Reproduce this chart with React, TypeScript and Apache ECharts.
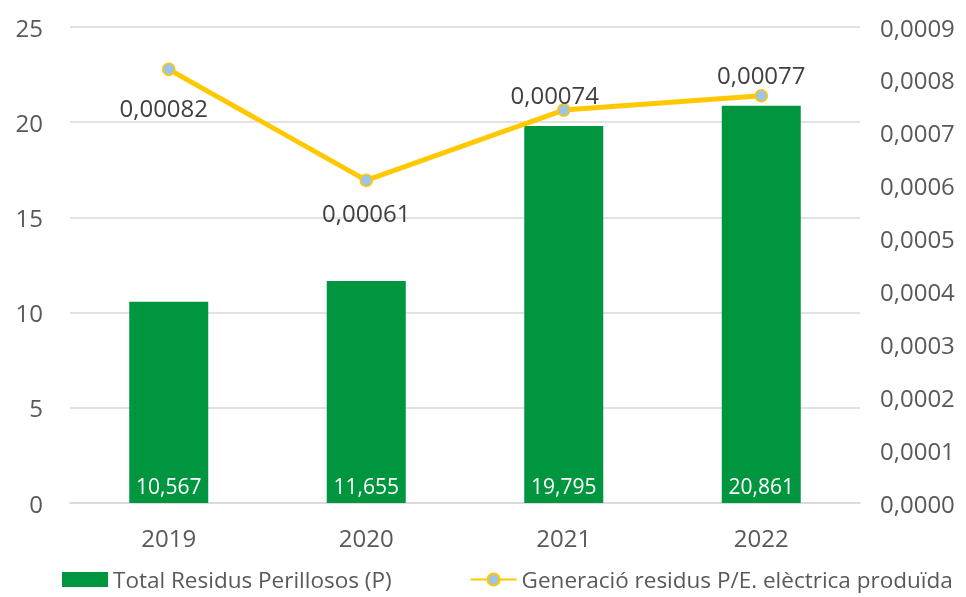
import React, { useEffect, useRef } from "react";
import * as echarts from "echarts";

const categories = ["2019", "2020", "2021", "2022"];
const residusTotals = [10.567, 11.655, 19.795, 20.861];
const residusPerEnergy = [0.00082, 0.00061, 0.000743, 0.00077];
const barName = "Total Residus Perillosos (P)";
const lineName = "Generació residus P/E. elèctrica produïda";

const FONT = "'Open Sans', sans-serif";

const comma = (v: number, d: number) => v.toFixed(d).replace(".", ",");

export default function App() {
  const ref = useRef<HTMLDivElement>(null);
  useEffect(() => {
    if (!ref.current) return;
    const chart = echarts.init(ref.current, null, { renderer: "svg" });
    const labelCfg = [
      { position: "bottom", distance: 19, offset: [-5, 0] },
      { position: "bottom", distance: 13, offset: [0, 0] },
      { position: "top", distance: -3, offset: [-9, 0] },
      { position: "top", distance: 3, offset: [0, 0] },
    ];
    chart.setOption({
      animation: false,
      textStyle: { fontFamily: FONT },
      grid: { left: 70, right: 106, top: 27, bottom: 94, containLabel: false },
      legend: {
        top: 568,
        left: 62,
        right: 0,
        padding: 0,
        itemGap: 78,
        itemWidth: 46,
        itemHeight: 15,
        textStyle: { fontFamily: FONT, fontSize: 22.5, color: "#595959" },
        data: [
          { name: barName, icon: "rect" },
          { name: lineName },
        ],
      },
      xAxis: {
        type: "category",
        data: categories,
        axisLine: { lineStyle: { color: "#d9d9d9", width: 1.5 } },
        axisTick: { show: false },
        axisLabel: { color: "#595959", fontSize: 24, margin: 22, fontFamily: FONT },
      },
      yAxis: [
        {
          type: "value",
          min: 0,
          max: 25,
          interval: 5,
          axisLine: { show: false },
          axisTick: { show: false },
          splitLine: { lineStyle: { color: "#d9d9d9", width: 1.5 } },
          axisLabel: { color: "#595959", fontSize: 24, margin: 27, fontFamily: FONT },
        },
        {
          type: "value",
          min: 0,
          max: 0.0009,
          interval: 0.0001,
          position: "right",
          axisLine: { show: false },
          axisTick: { show: false },
          splitLine: { show: false },
          axisLabel: {
            color: "#595959",
            fontSize: 24,
            margin: 20,
            fontFamily: FONT,
            formatter: (v: number) => comma(v, 4),
          },
        },
      ],
      series: [
        {
          name: barName,
          type: "bar",
          data: residusTotals,
          barWidth: "40%",
          itemStyle: { color: "#00963F" },
          label: {
            show: true,
            position: "insideBottom",
            distance: 7,
            color: "#ffffff",
            fontSize: 21,
            fontFamily: FONT,
            formatter: (p: any) => comma(p.value, 3),
          },
        },
        {
          name: lineName,
          type: "line",
          yAxisIndex: 1,
          data: residusPerEnergy.map((v, i) => ({
            value: v,
            label: labelCfg[i],
          })),
          symbol: "circle",
          symbolSize: 12,
          lineStyle: { color: "#FFC800", width: 5 },
          itemStyle: { color: "#9DC3E6", borderColor: "#FFC800", borderWidth: 1.5 },
          label: {
            show: true,
            color: "#404040",
            fontSize: 24,
            fontFamily: FONT,
            formatter: (p: any) => comma(p.value, 5),
          },
        },
      ],
    });
    return () => chart.dispose();
  }, []);
  return (
    <div
      ref={ref}
      style={{ position: "fixed", left: 0, top: 0, width: 966, height: 597 }}
    />
  );
}
